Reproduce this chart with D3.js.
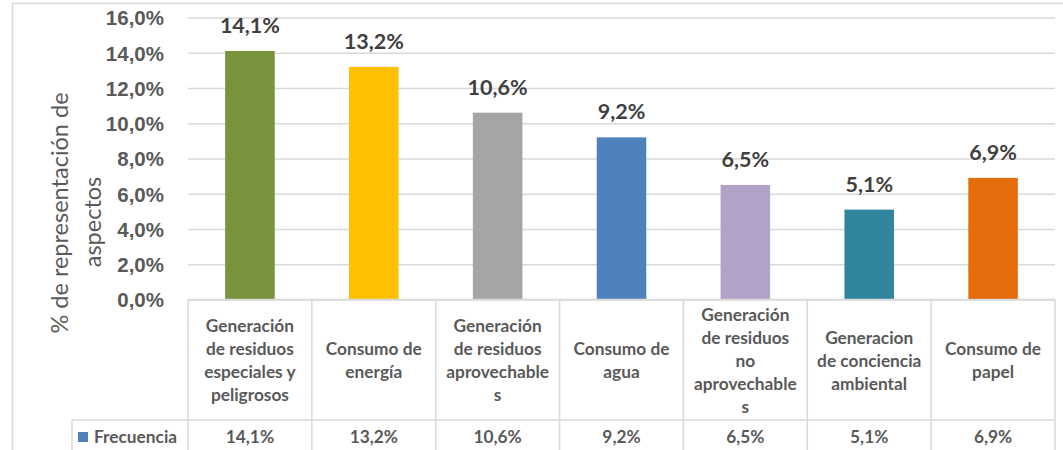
<!DOCTYPE html>
<html>
<head>
<meta charset="utf-8">
<script src="https://cdn.jsdelivr.net/npm/d3@7"></script>
<style>
  html, body { margin: 0; padding: 0; background: #fff; }
  svg { display: block; font-family: Lato, "Open Sans", sans-serif; }
</style>
</head>
<body>
<svg id="chart" width="1063" height="450"></svg>
<script>
// Aspect categories (each entry holds the wrapped lines of its label)
const categories = [
  ["Generación", "de residuos", "especiales y", "peligrosos"],
  ["Consumo de", "energía"],
  ["Generación", "de residuos", "aprovechable", "s"],
  ["Consumo de", "agua"],
  ["Generación", "de residuos", "no", "aprovechable", "s"],
  ["Generacion", "de conciencia", "ambiental"],
  ["Consumo de", "papel"]
];
const frecuencia = [14.1, 13.2, 10.6, 9.2, 6.5, 5.1, 6.9];
const barColors = ["#77933C", "#FFC000", "#A5A5A5", "#4F81BD", "#B3A2C7", "#31859C", "#E46C0A"];
const yTicks = [0, 2, 4, 6, 8, 10, 12, 14, 16];
const seriesName = "Frecuencia";
const yTitle = ["% de representación de", "aspectos"];

const fmt = v => v.toFixed(1).replace(".", ",") + "%";

const svg = d3.select("#chart");
const plot = { left: 188, right: 1055, top: 17.5, bottom: 299.5 };
const tableHeaderBottom = 420;
const tableBottom = 458;
const gridColor = "#D9D9D9";
const textGray = "#595959";
const tableFont = "17.3px";

// outer chart frame
svg.append("rect")
  .attr("x", 12.5).attr("y", 3.5)
  .attr("width", 1100).attr("height", 500)
  .attr("fill", "none").attr("stroke", gridColor).attr("stroke-width", 1.5);

const x = d3.scaleBand()
  .domain(d3.range(categories.length))
  .range([plot.left, plot.right])
  .paddingInner(0.6).paddingOuter(0.3);

const y = d3.scaleLinear().domain([0, 16]).range([plot.bottom, plot.top]);

// horizontal gridlines and percentage tick labels
const yAxis = d3.axisLeft(y)
  .tickValues(yTicks)
  .tickSize(-(plot.right - plot.left))
  .tickPadding(24)
  .tickFormat(fmt);

const gy = svg.append("g").attr("transform", `translate(${plot.left},0)`).call(yAxis);
gy.select(".domain").remove();
gy.selectAll(".tick line").attr("stroke", gridColor).attr("stroke-width", 1.5);
gy.selectAll(".tick text")
  .attr("fill", textGray)
  .style("font-size", "20.5px")
  .style("font-weight", "bold")
  .attr("dy", "0.36em");

// y-axis title (two lines, rotated)
const titleCenters = [{ x: 60, y: 213 }, { x: 93, y: 222 }];
svg.append("g").selectAll("text").data(yTitle).join("text")
  .attr("transform", (d, i) => `translate(${titleCenters[i].x},${titleCenters[i].y}) rotate(-90)`)
  .attr("dy", "0.35em")
  .attr("text-anchor", "middle")
  .attr("fill", textGray)
  .style("font-size", "23.5px")
  .text(d => d);

// bars
svg.append("g").selectAll("rect").data(frecuencia).join("rect")
  .attr("x", (d, i) => x(i))
  .attr("width", x.bandwidth())
  .attr("y", d => y(d))
  .attr("height", d => y(0) - y(d))
  .attr("fill", (d, i) => barColors[i]);

// value labels above bars
svg.append("g").selectAll("text").data(frecuencia).join("text")
  .attr("x", (d, i) => x(i) + x.bandwidth() / 2)
  .attr("y", d => y(d) - 18)
  .attr("text-anchor", "middle")
  .attr("fill", "#404040")
  .style("font-size", "21.5px")
  .style("font-weight", "bold")
  .text(d => fmt(d));

// data table below the plot
const step = x.step();
const colEdges = d3.range(categories.length + 1).map(i => plot.left + i * step);
const table = svg.append("g").attr("stroke", gridColor).attr("stroke-width", 1.5);

// horizontal table rules
table.append("line").attr("x1", plot.left).attr("x2", plot.right)
  .attr("y1", plot.bottom).attr("y2", plot.bottom);
table.append("line").attr("x1", 72).attr("x2", plot.right)
  .attr("y1", tableHeaderBottom).attr("y2", tableHeaderBottom);
// vertical table rules
table.selectAll("line.col").data(colEdges).join("line")
  .attr("class", "col")
  .attr("x1", d => d).attr("x2", d => d)
  .attr("y1", plot.bottom).attr("y2", tableBottom);
table.append("line").attr("x1", 72).attr("x2", 72)
  .attr("y1", tableHeaderBottom).attr("y2", tableBottom);

// category labels
const lineH = 23;
const headerMid = (plot.bottom + tableHeaderBottom) / 2 + 1;
svg.append("g").selectAll("text").data(categories).join("text")
  .attr("text-anchor", "middle")
  .attr("fill", textGray)
  .style("font-size", tableFont)
  .style("font-weight", "bold")
  .each(function (lines, i) {
    const cx = x(i) + x.bandwidth() / 2;
    const y0 = headerMid - (lines.length - 1) * lineH / 2;
    d3.select(this).selectAll("tspan").data(lines).join("tspan")
      .attr("x", cx)
      .attr("y", (l, j) => y0 + j * lineH)
      .attr("dy", "0.35em")
      .text(l => l);
  });

// value row
const rowMid = 437;
svg.append("g").selectAll("text").data(frecuencia).join("text")
  .attr("x", (d, i) => x(i) + x.bandwidth() / 2)
  .attr("y", rowMid)
  .attr("dy", "0.35em")
  .attr("text-anchor", "middle")
  .attr("fill", textGray)
  .style("font-size", tableFont)
  .style("font-weight", "bold")
  .text(d => fmt(d));

// legend key in the table
svg.append("rect")
  .attr("x", 78).attr("y", 432).attr("width", 10).attr("height", 10)
  .attr("fill", barColors[3]);
svg.append("text")
  .attr("x", 94).attr("y", rowMid).attr("dy", "0.35em")
  .attr("fill", textGray)
  .style("font-size", tableFont)
  .style("font-weight", "bold")
  .text(seriesName);
</script>
</body>
</html>
